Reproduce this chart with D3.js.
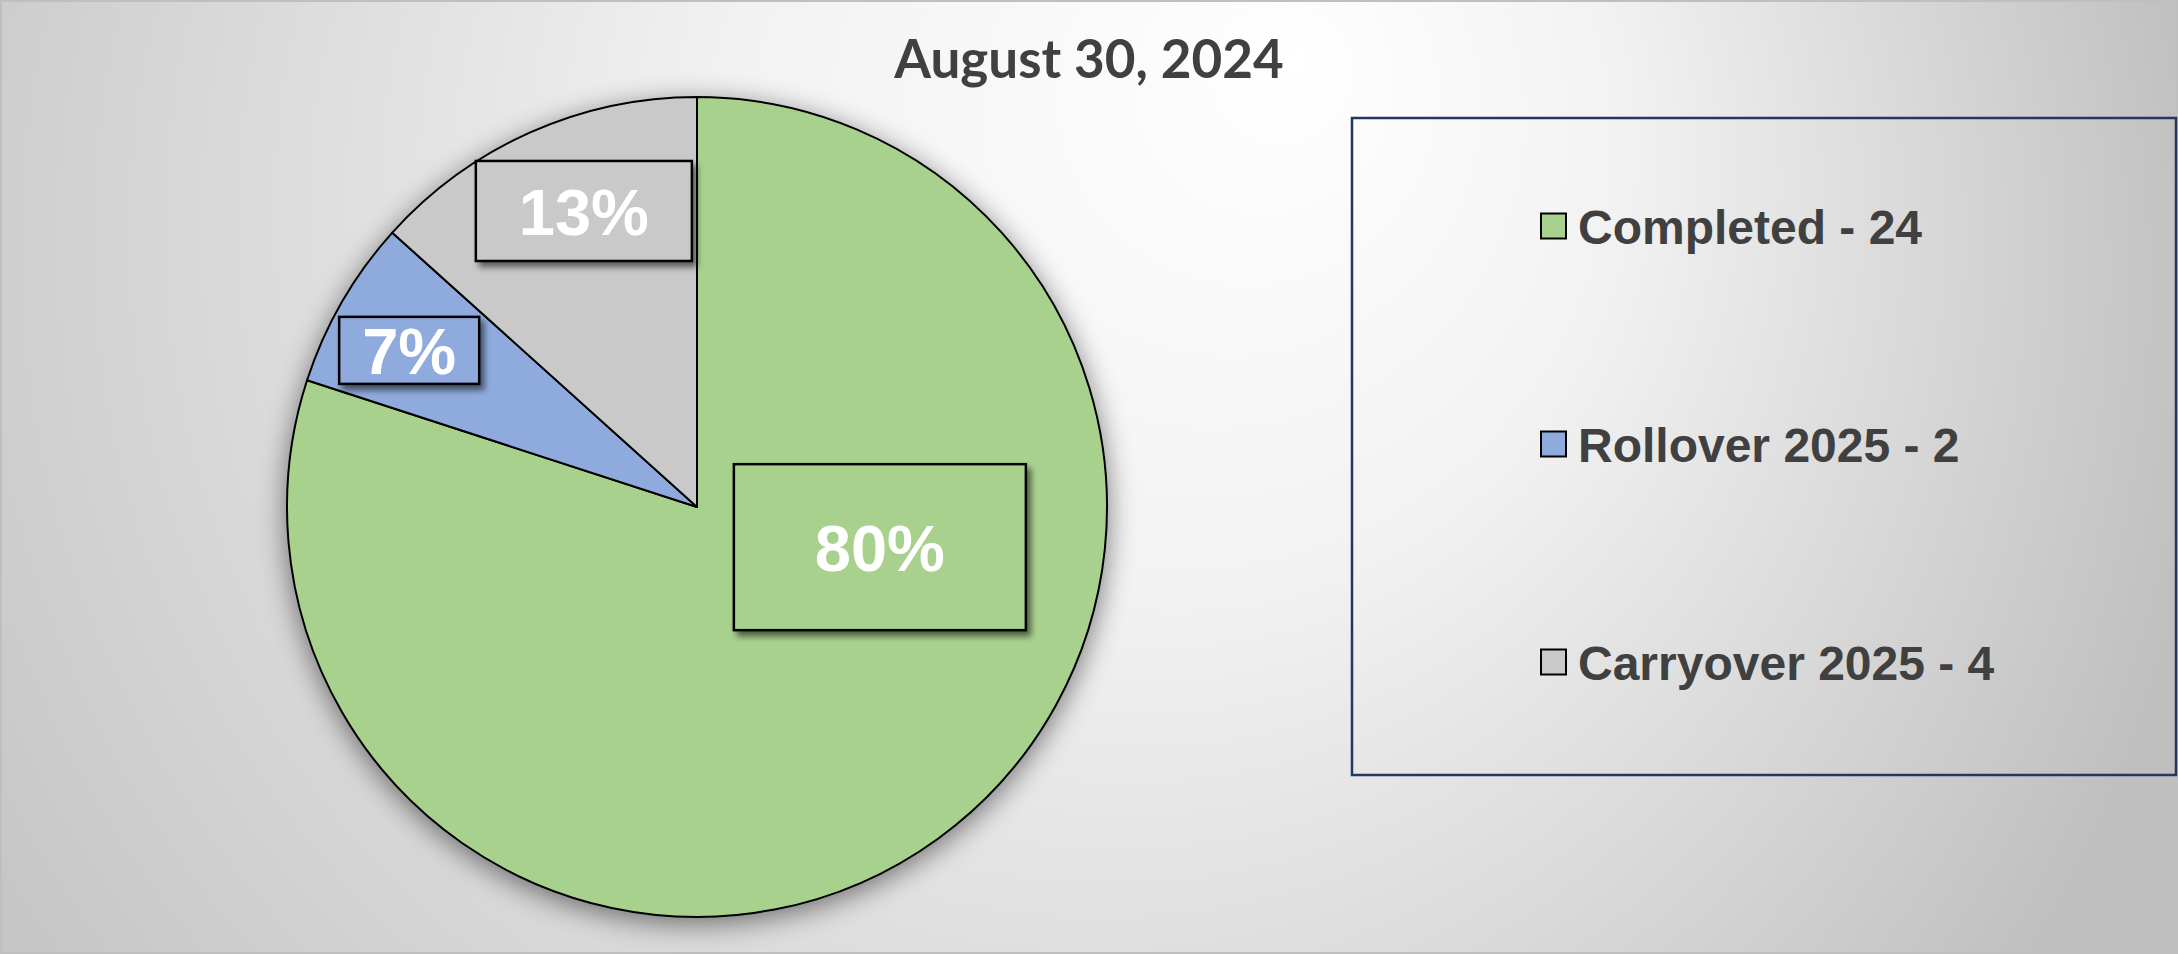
<!DOCTYPE html>
<html>
<head>
<meta charset="utf-8">
<title>August 30, 2024</title>
<script src="https://cdn.jsdelivr.net/npm/d3@7"></script>
<style>
  html, body { margin: 0; padding: 0; background: #ffffff; }
  svg { display: block; }
</style>
</head>
<body>
<svg id="chart" width="2178" height="954"></svg>
<script>
// ---- data ----
const chartTitle = "August 30, 2024";
const categories = ["Completed", "Rollover 2025", "Carryover 2025"];
const counts = [24, 2, 4];
const sliceColors = ["#A9D18E", "#8FAADC", "#C9C9C9"];

// ---- layout ----
const W = 2178, H = 954;
const pieCenter = { x: 697, y: 507 };
const pieRadius = 410;
// data-label boxes: centre offset as a fraction of the radius, then box size
const labelOffsets = [[0.446, 0.098], [-0.702, -0.382], [-0.276, -0.722]];
const labelBoxSizes = [[292, 166], [140, 67], [216, 100]];
const legendBox = { x: 1352, y: 118, w: 824, h: 657 };
const legendRowStart = 226, legendRowStep = 218, legendSwatchX = 1541, legendTextX = 1578;

const svg = d3.select("#chart");
const defs = svg.append("defs");

// background: soft radial light from the upper middle fading to grey
const bg = defs.append("radialGradient")
  .attr("id", "bgGrad")
  .attr("gradientUnits", "userSpaceOnUse")
  .attr("cx", 950).attr("cy", 300).attr("r", 1270)
  .attr("fx", 1300).attr("fy", 60);
bg.append("stop").attr("offset", "0%").attr("stop-color", "#ffffff");
bg.append("stop").attr("offset", "35%").attr("stop-color", "#f2f2f2");
bg.append("stop").attr("offset", "100%").attr("stop-color", "#bfbfbf");

// shadow behind the whole pie
const pieShadow = defs.append("filter").attr("id", "pieShadow")
  .attr("x", "-20%").attr("y", "-20%").attr("width", "140%").attr("height", "140%");
pieShadow.append("feGaussianBlur").attr("in", "SourceAlpha").attr("stdDeviation", 14).attr("result", "blur");
pieShadow.append("feOffset").attr("in", "blur").attr("dx", 0).attr("dy", 6).attr("result", "off");
pieShadow.append("feComponentTransfer").attr("in", "off").attr("result", "soft")
  .append("feFuncA").attr("type", "linear").attr("slope", 0.5);
const pm = pieShadow.append("feMerge");
pm.append("feMergeNode").attr("in", "soft");
pm.append("feMergeNode").attr("in", "SourceGraphic");

// shadow under data-label boxes
const boxShadow = defs.append("filter").attr("id", "boxShadow")
  .attr("x", "-20%").attr("y", "-20%").attr("width", "150%").attr("height", "150%");
boxShadow.append("feGaussianBlur").attr("in", "SourceAlpha").attr("stdDeviation", 3).attr("result", "blur");
boxShadow.append("feOffset").attr("in", "blur").attr("dx", 4).attr("dy", 5).attr("result", "off");
boxShadow.append("feComponentTransfer").attr("in", "off").attr("result", "soft")
  .append("feFuncA").attr("type", "linear").attr("slope", 0.55);
const bm = boxShadow.append("feMerge");
bm.append("feMergeNode").attr("in", "soft");
bm.append("feMergeNode").attr("in", "SourceGraphic");

// chart area
svg.append("rect")
  .attr("x", 1).attr("y", 1).attr("width", W - 2).attr("height", H - 2)
  .attr("fill", "url(#bgGrad)")
  .attr("stroke", "#bfbfbf").attr("stroke-width", 2);

// title
svg.append("text")
  .attr("x", W / 2).attr("y", 78)
  .attr("text-anchor", "middle")
  .attr("font-family", "Lato, 'Open Sans', sans-serif")
  .attr("font-weight", 700)
  .attr("font-size", 53)
  .attr("fill", "#404040")
  .text(chartTitle);

// ---- pie ----
const total = d3.sum(counts);
const pie = d3.pie().sort(null).value(d => d)(counts);
const arc = d3.arc().innerRadius(0).outerRadius(pieRadius);

const pieG = svg.append("g")
  .attr("transform", `translate(${pieCenter.x},${pieCenter.y})`);

pieG.append("g").attr("filter", "url(#pieShadow)")
  .selectAll("path")
  .data(pie)
  .join("path")
  .attr("d", arc)
  .attr("fill", (d, i) => sliceColors[i])
  .attr("stroke", "#000000")
  .attr("stroke-width", 2)
  .attr("stroke-linejoin", "round");

// data labels (percent of total)
const labels = pieG.append("g")
  .selectAll("g")
  .data(pie)
  .join("g")
  .attr("transform", (d, i) =>
    `translate(${labelOffsets[i][0] * pieRadius},${labelOffsets[i][1] * pieRadius})`);

labels.append("rect")
  .attr("x", (d, i) => -labelBoxSizes[i][0] / 2)
  .attr("y", (d, i) => -labelBoxSizes[i][1] / 2)
  .attr("width", (d, i) => labelBoxSizes[i][0])
  .attr("height", (d, i) => labelBoxSizes[i][1])
  .attr("fill", (d, i) => sliceColors[i])
  .attr("stroke", "#000000")
  .attr("stroke-width", 2.5)
  .attr("filter", "url(#boxShadow)");

labels.append("text")
  .attr("text-anchor", "middle")
  .attr("y", 24)
  .attr("font-family", "'Liberation Sans', Arial, sans-serif")
  .attr("font-weight", 700)
  .attr("font-size", 65)
  .attr("fill", "#ffffff")
  .text(d => Math.round(d.value / total * 100) + "%");

// ---- legend ----
svg.append("rect")
  .attr("x", legendBox.x).attr("y", legendBox.y)
  .attr("width", legendBox.w).attr("height", legendBox.h)
  .attr("fill", "none")
  .attr("stroke", "#1F3864")
  .attr("stroke-width", 2.5);

const legendRows = svg.append("g")
  .selectAll("g")
  .data(categories)
  .join("g")
  .attr("transform", (d, i) => `translate(0,${legendRowStart + i * legendRowStep})`);

legendRows.append("rect")
  .attr("x", legendSwatchX).attr("y", -12.5)
  .attr("width", 25).attr("height", 25)
  .attr("fill", (d, i) => sliceColors[i])
  .attr("stroke", "#000000")
  .attr("stroke-width", 2);

legendRows.append("text")
  .attr("x", legendTextX).attr("y", 18)
  .attr("font-family", "'Liberation Sans', Arial, sans-serif")
  .attr("font-weight", 700)
  .attr("font-size", 48)
  .attr("fill", "#404040")
  .text((d, i) => `${d} - ${counts[i]}`);
</script>
</body>
</html>
